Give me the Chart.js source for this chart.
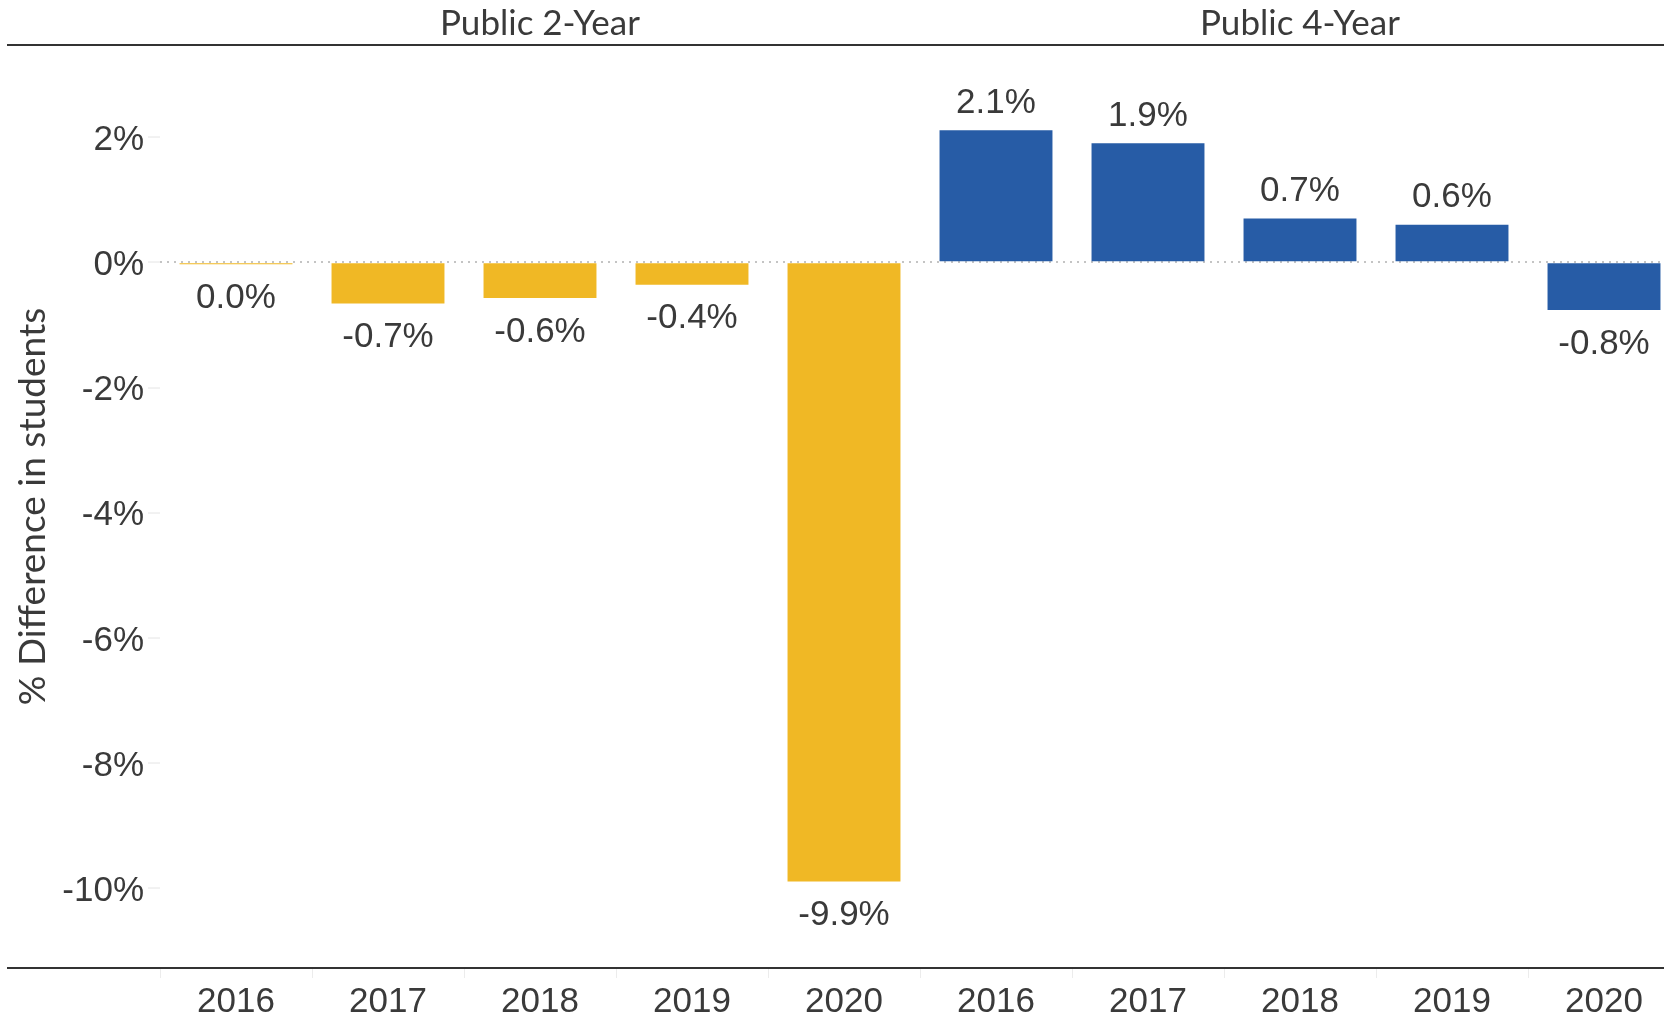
<!DOCTYPE html>
<html>
<head>
<meta charset="utf-8">
<script src="https://cdn.jsdelivr.net/npm/chart.js@4.4.1/dist/chart.umd.min.js"></script>
<style>
  html, body { margin: 0; padding: 0; background: #fff; overflow: hidden; }
  #wrap { width: 1680px; height: 1017px; }
</style>
</head>
<body>
<div id="wrap"><canvas id="myChart" width="1680" height="1017"></canvas></div>
<script>
// data
let years = ["2016","2017","2018","2019","2020","2016","2017","2018","2019","2020"]
let groups = ["Public 2-Year","Public 4-Year"]
let barGroup = [0,0,0,0,0,1,1,1,1,1]
let difPct = [-0.03,-0.66,-0.57,-0.36,-9.89,2.11,1.90,0.70,0.60,-0.76]
let yTicks = [2,0,-2,-4,-6,-8,-10]
let colores = ["#f0b825","#275ca6"]

let txtColor = "#3a3a3a"
let numFont = "'Liberation Sans', Arial, sans-serif"
let headFont = "Lato, 'Open Sans', sans-serif"

function fmt(v){
  return (Math.round(v * 10) / 10).toFixed(1) + "%"
}

// labels at the end of every bar
const barLabels = {
  id: "barLabels",
  afterDatasetsDraw(chart){
    const ctx = chart.ctx
    const meta = chart.getDatasetMeta(0)
    ctx.save()
    ctx.font = "35px " + numFont
    ctx.fillStyle = txtColor
    ctx.textAlign = "center"
    ctx.textBaseline = "middle"
    meta.data.forEach(function(bar, i){
      let v = difPct[i]
      let y = v >= 0 ? bar.y - 27 : bar.y + 34
      ctx.fillText(fmt(v), bar.x, y)
    })
    ctx.restore()
  }
}

// the two dark rules across the whole width
const frameLines = {
  id: "frameLines",
  afterDraw(chart){
    const ctx = chart.ctx
    const a = chart.chartArea
    ctx.save()
    ctx.strokeStyle = "#333"
    ctx.lineWidth = 2
    ctx.beginPath()
    ctx.moveTo(7, a.top); ctx.lineTo(1664, a.top)
    ctx.moveTo(7, a.bottom); ctx.lineTo(1664, a.bottom)
    ctx.stroke()
    ctx.restore()
  }
}

const config = {
  type: "bar",
  data: {
    labels: years,
    datasets: [{
      label: "% Difference in students",
      data: difPct,
      backgroundColor: barGroup.map(g => colores[g]),
      borderWidth: 0,
      categoryPercentage: 1,
      barPercentage: 0.743
    }]
  },
  options: {
    responsive: false,
    animation: false,
    devicePixelRatio: 1,
    layout: { padding: 0 },
    plugins: {
      legend: { display: false },
      tooltip: { enabled: false }
    },
    scales: {
      x: {
        type: "category",
        offset: true,
        grid: {
          offset: true,
          drawOnChartArea: false,
          drawTicks: true,
          tickLength: 10,
          tickColor: "#ececec"
        },
        border: { display: false },
        ticks: {
          font: { size: 35, family: numFont },
          color: txtColor,
          padding: 3,
          autoSkip: false,
          maxRotation: 0
        },
        afterFit: function(s){ s.height = 49 }
      },
      x2: {
        type: "category",
        position: "top",
        labels: groups,
        offset: true,
        grid: { display: false },
        border: { display: false },
        ticks: {
          font: { size: 35, family: headFont },
          color: txtColor,
          padding: -8,
          autoSkip: false,
          maxRotation: 0
        },
        afterFit: function(s){ s.height = 45 }
      },
      y: {
        min: -11.27,
        max: 3.47,
        afterBuildTicks: function(s){ s.ticks = yTicks.map(v => ({ value: v })) },
        grid: {
          color: function(c){ return c.tick && c.tick.value === 0 ? "#c4c4c4" : "rgba(0,0,0,0)" },
          lineWidth: 2,
          drawTicks: true,
          tickLength: 12,
          tickColor: "#e4e4e4",
          tickWidth: 1
        },
        border: { display: false, dash: [2, 5] },
        ticks: {
          font: { size: 35, family: numFont },
          color: txtColor,
          padding: 4,
          labelOffset: 3,
          callback: function(v){ return v + "%" }
        },
        title: {
          display: true,
          text: "% Difference in students",
          font: { size: 37, family: headFont },
          color: txtColor,
          padding: { top: 11, bottom: 0 }
        },
        afterFit: function(s){ s.width = 160 }
      }
    }
  },
  plugins: [barLabels, frameLines]
}

const myChart = new Chart(document.getElementById("myChart"), config)
</script>
</body>
</html>
